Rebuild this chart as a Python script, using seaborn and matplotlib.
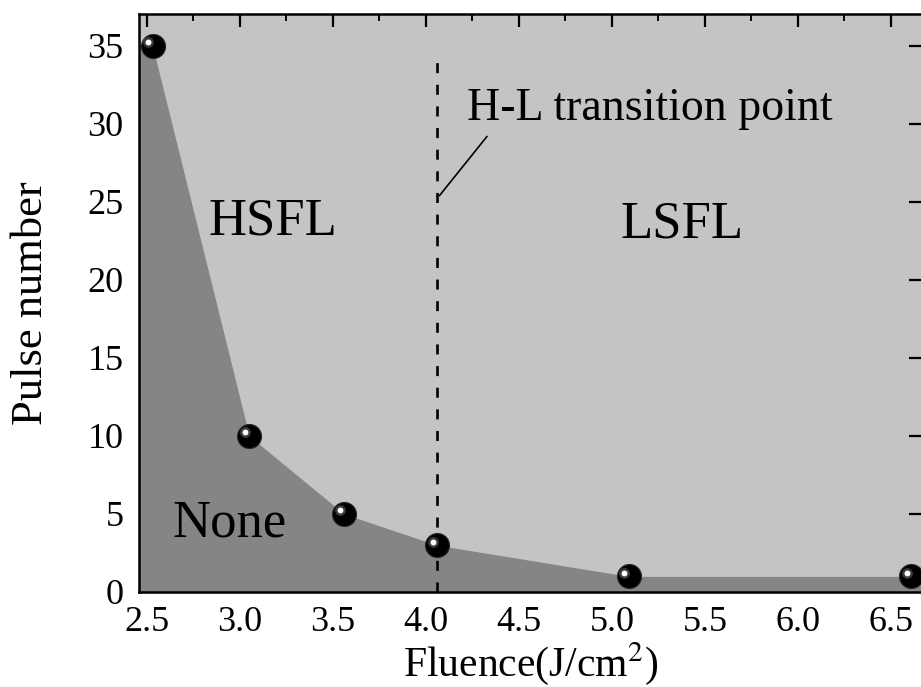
import numpy as np
import pandas as pd
import matplotlib
matplotlib.use("Agg")
import matplotlib.pyplot as plt
import matplotlib.transforms as mtransforms
from matplotlib.ticker import MultipleLocator, FormatStrFormatter
import seaborn as sns

# Threshold pulse number needed for ripple formation at each fluence
fluence = [2.53, 3.05, 3.56, 4.06, 5.09, 6.61]
pulses = [35, 10, 5, 3, 1, 1]

# H-L transition (vertical dashed marker)
transition_fluence = 4.06
transition_top = 34.7

x_limits = (2.457, 6.667)
y_limits = (0, 37.05)
x_ticks = [2.5, 3.0, 3.5, 4.0, 4.5, 5.0, 5.5, 6.0, 6.5]
y_ticks = [0, 5, 10, 15, 20, 25, 30, 35]

sns.set_theme(style="ticks")
plt.rcParams["font.family"] = ["Liberation Serif", "DejaVu Serif"]
plt.rcParams["mathtext.fontset"] = "stix"
plt.rcParams["text.color"] = "black"
plt.rcParams["axes.labelcolor"] = "black"
plt.rcParams["xtick.color"] = "black"
plt.rcParams["ytick.color"] = "black"

LIGHT = "#c4c4c4"
DARK = "#858585"

fig = plt.figure(figsize=(9.21, 6.87), dpi=100)
fig.patch.set_facecolor("white")
ax = fig.add_axes([0.1509, 0.1383, 0.8502, 0.8413])
ax.set_facecolor(LIGHT)

# dark "None" region under the threshold curve
edge_x = np.concatenate([[x_limits[0]], fluence, [x_limits[1]]])
edge_y = np.interp(edge_x, fluence, pulses)
ax.fill_between(edge_x, 0, edge_y, color=DARK, lw=0, zorder=1)

# dashed transition line
ax.vlines(transition_fluence, 0, transition_top, colors="black",
          linestyles=(0, (3.8, 4.4)), lw=1.9, zorder=2)

# spherical markers: dark ball + small specular highlight
df = pd.DataFrame({"Fluence": fluence, "Pulse": pulses})
sns.scatterplot(data=df, x="Fluence", y="Pulse", ax=ax, s=300,
                color="black", edgecolor="#2a2a2a", linewidth=0.8,
                zorder=5, legend=False)
shift = mtransforms.offset_copy(ax.transData, fig=fig, x=-3.2, y=2.6,
                                units="points")
ax.scatter(fluence, pulses, s=60, color="#6a6a6a", alpha=0.55,
           linewidths=0, transform=shift, zorder=6)
ax.scatter(fluence, pulses, s=18, color="white", linewidths=0,
           transform=shift, zorder=7)

# region labels
ax.text(3.177, 22.9, "HSFL", fontsize=38, ha="center", va="baseline", zorder=8)
ax.text(5.379, 22.7, "LSFL", fontsize=38, ha="center", va="baseline", zorder=8)
ax.text(2.946, 3.53, "None", fontsize=38, ha="center", va="baseline", zorder=8)

ax.text(4.219, 30.26, "H-L transition point", fontsize=33,
        ha="left", va="baseline", zorder=8)
ax.annotate("", xy=(transition_fluence + 0.012, 25.4), xytext=(4.328, 29.2),
            arrowprops=dict(arrowstyle="-", color="black", lw=1.2,
                            shrinkA=0, shrinkB=0), zorder=8)

ax.set_xlim(*x_limits)
ax.set_ylim(*y_limits)
ax.set_xticks(x_ticks)
ax.set_yticks(y_ticks)
ax.xaxis.set_major_formatter(FormatStrFormatter("%.1f"))
ax.xaxis.set_minor_locator(MultipleLocator(0.25))

ax.tick_params(axis="both", which="major", direction="in", length=9.5,
               width=1.6, color="black", labelcolor="black", labelsize=26,
               top=True, right=True)
ax.tick_params(axis="x", which="minor", direction="in", length=5,
               width=1.4, color="black", top=True)
ax.tick_params(axis="x", which="major", pad=10)
ax.tick_params(axis="y", which="major", pad=11)

for side in ["left", "right", "top", "bottom"]:
    ax.spines[side].set_visible(True)
    ax.spines[side].set_color("black")
    ax.spines[side].set_linewidth(1.8)

ax.set_xlabel(r"Fluence(J/cm$^{2}$)", fontsize=30, labelpad=1)
ax.set_ylabel("Pulse number", fontsize=32, labelpad=26)

fig.savefig("out.png", dpi=100, facecolor="white")
